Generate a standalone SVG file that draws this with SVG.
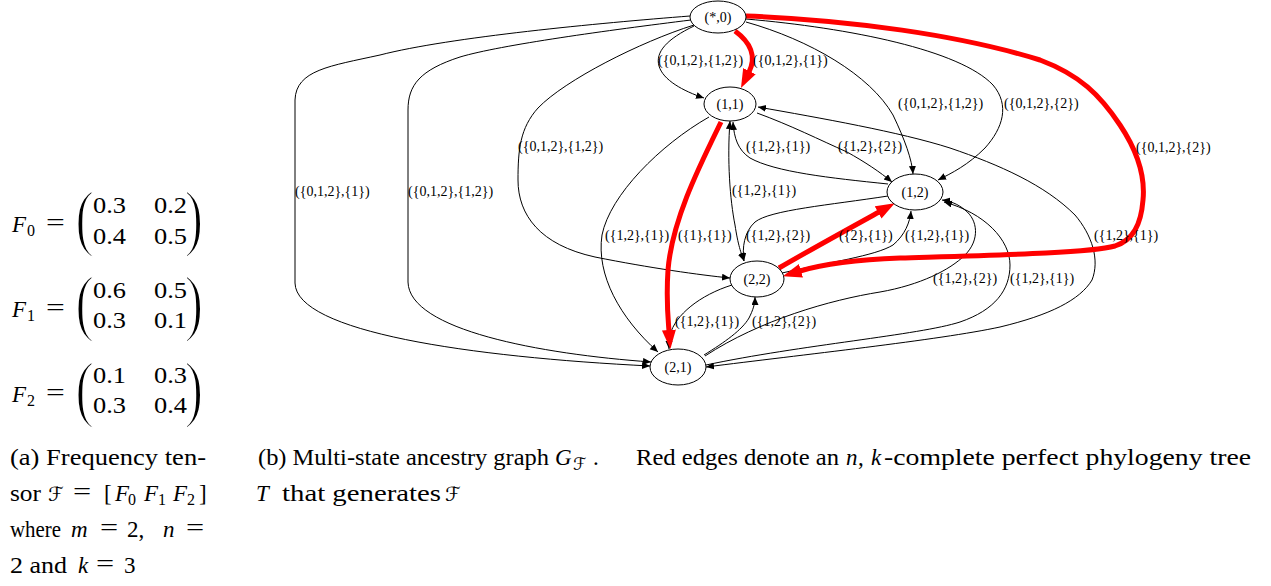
<svg xmlns="http://www.w3.org/2000/svg" width="1271" height="586" viewBox="0 0 1271 586">
<style>
.e{fill:none;stroke:#000;stroke-width:1}
.r{fill:none;stroke:#f00;stroke-width:5}
.l{font-family:'Liberation Serif','Times New Roman',serif;font-size:14px;fill:#000}
.n ellipse{fill:#fff;stroke:#000;stroke-width:1}
.n text{font-family:'Liberation Serif','Times New Roman',serif;font-size:14px;text-anchor:middle;fill:#000}
.t{font-family:'Liberation Serif','Times New Roman',serif;font-size:23px;fill:#000}
.i{font-style:italic}
.s{font-size:16px}
.bp{font-family:'Liberation Serif','Times New Roman',serif;font-size:75px;fill:#000;stroke:#fff;stroke-width:2}
.sc{font-family:'DejaVu Serif','DejaVu Sans',serif}
</style>
<defs>
<marker id="ah" markerWidth="10" markerHeight="8" refX="8" refY="3.5" orient="auto-start-reverse" markerUnits="userSpaceOnUse"><path d="M0,0 L8,3.5 L0,7 z" fill="#000"/></marker>
<marker id="rh" markerWidth="22" markerHeight="16" refX="1" refY="7" orient="auto" markerUnits="userSpaceOnUse"><path d="M0,0 L19,7 L0,14 z" fill="#f00"/></marker>
</defs>

<g id="matrices" class="t">
  <text x="12" y="232"><tspan class="i">F</tspan><tspan class="s" x="27" dy="4">0</tspan></text>
  <text transform="translate(46,230) scale(1.45,1)">=</text>
  <text class="bp" transform="translate(75.3,242) scale(0.75,1)">(</text>
  <text x="93" y="213" textLength="33" lengthAdjust="spacingAndGlyphs">0.3</text>
  <text x="154" y="213" textLength="33" lengthAdjust="spacingAndGlyphs">0.2</text>
  <text x="93" y="244" textLength="33" lengthAdjust="spacingAndGlyphs">0.4</text>
  <text x="154" y="244" textLength="33" lengthAdjust="spacingAndGlyphs">0.5</text>
  <text class="bp" transform="translate(184.5,242) scale(0.75,1)">)</text>

  <text x="12" y="317"><tspan class="i">F</tspan><tspan class="s" x="27" dy="4">1</tspan></text>
  <text transform="translate(46,315) scale(1.45,1)">=</text>
  <text class="bp" transform="translate(75.3,327) scale(0.75,1)">(</text>
  <text x="93" y="298" textLength="33" lengthAdjust="spacingAndGlyphs">0.6</text>
  <text x="154" y="298" textLength="33" lengthAdjust="spacingAndGlyphs">0.5</text>
  <text x="93" y="328" textLength="33" lengthAdjust="spacingAndGlyphs">0.3</text>
  <text x="154" y="328" textLength="33" lengthAdjust="spacingAndGlyphs">0.1</text>
  <text class="bp" transform="translate(184.5,327) scale(0.75,1)">)</text>

  <text x="12" y="402"><tspan class="i">F</tspan><tspan class="s" x="27" dy="4">2</tspan></text>
  <text transform="translate(46,400) scale(1.45,1)">=</text>
  <text class="bp" transform="translate(75.3,413) scale(0.75,1)">(</text>
  <text x="93" y="383" textLength="33" lengthAdjust="spacingAndGlyphs">0.1</text>
  <text x="154" y="383" textLength="33" lengthAdjust="spacingAndGlyphs">0.3</text>
  <text x="93" y="413" textLength="33" lengthAdjust="spacingAndGlyphs">0.3</text>
  <text x="154" y="413" textLength="33" lengthAdjust="spacingAndGlyphs">0.4</text>
  <text class="bp" transform="translate(184.5,413) scale(0.75,1)">)</text>
</g>

<g id="caption-a" class="t">
  <text x="10" y="465" textLength="196" lengthAdjust="spacingAndGlyphs">(a) Frequency ten-</text>
  <text x="10" y="501" textLength="31" lengthAdjust="spacingAndGlyphs">sor</text>
  <text x="48" y="501" class="sc" font-size="20">ℱ</text>
  <text transform="translate(73,499) scale(1.4,1)">=</text>
  <text x="104" y="501">[</text>
  <text x="115" y="501"><tspan class="i">F</tspan><tspan class="s" x="128" dy="4">0</tspan><tspan class="i" x="144" dy="-4">F</tspan><tspan class="s" x="158" dy="4">1</tspan><tspan class="i" x="173" dy="-4">F</tspan><tspan class="s" x="187" dy="4">2</tspan></text>
  <text x="199" y="501">]</text>
  <text x="10" y="537" textLength="51" lengthAdjust="spacingAndGlyphs">where</text>
  <text x="71" y="537" class="i">m</text>
  <text transform="translate(100,535) scale(1.4,1)">=</text>
  <text x="127" y="537">2,</text>
  <text x="163" y="537" class="i">n</text>
  <text transform="translate(186,535) scale(1.4,1)">=</text>
  <text x="10" y="573" textLength="57" lengthAdjust="spacingAndGlyphs">2 and</text>
  <text x="78" y="573" class="i">k</text>
  <text transform="translate(96,571) scale(1.4,1)">=</text>
  <text x="124" y="573">3</text>
</g>

<g id="caption-b" class="t">
  <text x="258" y="465" textLength="291" lengthAdjust="spacingAndGlyphs">(b) Multi-state ancestry graph</text>
  <text x="555" y="465"><tspan class="i">G</tspan><tspan class="sc" font-size="17" x="573" dy="5">ℱ</tspan><tspan x="593" dy="-5">.</tspan></text>
  <text x="636" y="465" textLength="203" lengthAdjust="spacingAndGlyphs">Red edges denote an</text>
  <text x="846" y="465"><tspan class="i">n</tspan><tspan x="858">,</tspan><tspan class="i" x="871">k</tspan></text>
  <text x="884" y="465" textLength="367" lengthAdjust="spacingAndGlyphs">-complete perfect phylogeny tree</text>
  <text x="256" y="501" class="i">T</text>
  <text x="282" y="501" textLength="159" lengthAdjust="spacingAndGlyphs">that generates</text>
  <text x="445" y="501" class="sc" font-size="20">ℱ</text>
</g>

<g id="connectors">
  <path class="e" marker-end="url(#ah)" d="M690,16 C 600,23 450,37 380,55 C 330,66 296,70 295,100 L295,283 C 296,332 470,357 650,366"/>
  <path class="e" marker-end="url(#ah)" d="M691,20 C 610,30 500,45 460,57 C 420,70 408,85 408,110 L408,282 C 409,330 540,354 651,362"/>
  <path class="e" marker-end="url(#ah)" d="M694,25 C 640,42 565,80 538,108 C 520,128 518,150 518,180 C 518,215 540,245 595,257 C 650,268 700,275 730,278"/>
  <path class="e" marker-end="url(#ah)" d="M694,26 C 667,39 655,52 659,66 C 663,80 683,91 704,98"/>
  <path class="e" marker-end="url(#ah)" d="M746,22 C 810,40 870,75 893,115 C 905,140 912,160 913,174"/>
  <path class="e" marker-end="url(#ah)" d="M746,19 C 850,28 960,50 993,85 C 1010,105 1003,128 985,148 C 968,165 952,173 938,180"/>
  <path class="e" marker-end="url(#ah)" d="M709,117 C 660,145 610,195 602,235 C 596,275 620,318 658,352"/>
  <path class="e" marker-end="url(#ah)" d="M757,113 C 790,125 820,140 847,152 C 865,162 880,172 892,182"/>
  <path class="e" marker-start="url(#ah)" marker-end="url(#ah)" d="M730,121 C 727,160 730,200 735,225 C 738,245 741,253 744,261"/>
  <path class="e" marker-end="url(#ah)" d="M888,184 C 830,178 775,172 750,158 C 738,150 734,138 733,122"/>
  <path class="e" marker-end="url(#ah)" d="M888,196 C 830,205 770,210 755,222 C 744,232 742,248 744,261"/>
  <path class="e" marker-end="url(#ah)" d="M782,273 C 830,262 875,256 893,245 C 905,235 910,222 911,211"/>
  <path class="e" marker-end="url(#ah)" d="M705,356 C 760,320 830,300 880,292 C 920,285 950,270 965,255 C 980,240 978,220 965,210 C 958,204 950,201 942,200"/>
  <path class="e" marker-end="url(#ah)" d="M706,365 C 800,345 920,335 960,322 C 995,310 1010,290 1010,265 C 1010,240 985,213 944,202"/>
  <path class="e" marker-start="url(#ah)" marker-end="url(#ah)" d="M706,367 C 800,355 940,340 1000,327 C 1050,315 1080,300 1092,280 C 1100,260 1092,235 1075,215 C 1045,185 1000,165 950,148 C 900,132 820,118 758,107"/>
  <path class="e" marker-end="url(#ah)" d="M732,285 C 700,295 675,315 670,335 C 669,341 669,345 669,349"/>
  <path class="e" marker-end="url(#ah)" d="M704,355 C 725,342 742,330 749,318 C 753,310 755,304 755,297"/>
  <path class="r" marker-end="url(#rh)" d="M735,31 C 750,42 757,56 749,72"/>
  <path class="r" marker-end="url(#rh)" d="M746,16 C 850,20 960,35 1040,60 C 1080,75 1100,95 1120,125 C 1140,155 1145,180 1143,200 C 1141,225 1133,240 1115,246 C 1090,253 1000,255 900,258 C 850,260 820,265 800,271"/>
  <path class="r" marker-end="url(#rh)" d="M721,122 C 700,165 672,220 668,270 C 666,300 668,318 669,331"/>
  <path class="r" marker-end="url(#rh)" d="M779,268 C 810,250 850,228 879,212"/>

  <g id="edge-labels" class="l">
    <text x="658" y="65">({0,1,2},{1,2})</text>
    <text x="753" y="65">({0,1,2},{1})</text>
    <text x="898" y="108">({0,1,2},{1,2})</text>
    <text x="1004" y="108">({0,1,2},{2})</text>
    <text x="1136" y="152">({0,1,2},{2})</text>
    <text x="518" y="151">({0,1,2},{1,2})</text>
    <text x="746" y="151">({1,2},{1})</text>
    <text x="838" y="151">({1,2},{2})</text>
    <text x="295" y="196">({0,1,2},{1})</text>
    <text x="408" y="196">({0,1,2},{1,2})</text>
    <text x="732" y="195">({1,2},{1})</text>
    <text x="605" y="240">({1,2},{1})</text>
    <text x="678" y="240">({1},{1})</text>
    <text x="746" y="240">({1,2},{2})</text>
    <text x="839" y="240">({2},{1})</text>
    <text x="905" y="240">({1,2},{1})</text>
    <text x="1094" y="240">({1,2},{1})</text>
    <text x="933" y="283">({1,2},{2})</text>
    <text x="1010" y="283">({1,2},{1})</text>
    <text x="675" y="326">({1,2},{1})</text>
    <text x="752" y="326">({1,2},{2})</text>
  </g>
</g>

<g id="node-star0" class="n"><ellipse cx="718" cy="17" rx="28" ry="16"/><text x="718" y="22">(*,0)</text></g>
<g id="node-1-1" class="n"><ellipse cx="730" cy="104" rx="26" ry="17"/><text x="730" y="109">(1,1)</text></g>
<g id="node-1-2" class="n"><ellipse cx="915" cy="192" rx="28" ry="18"/><text x="915" y="197">(1,2)</text></g>
<g id="node-2-2" class="n"><ellipse cx="757" cy="279" rx="27" ry="18"/><text x="757" y="284">(2,2)</text></g>
<g id="node-2-1" class="n"><ellipse cx="678" cy="367" rx="28" ry="18"/><text x="678" y="372">(2,1)</text></g>
</svg>
